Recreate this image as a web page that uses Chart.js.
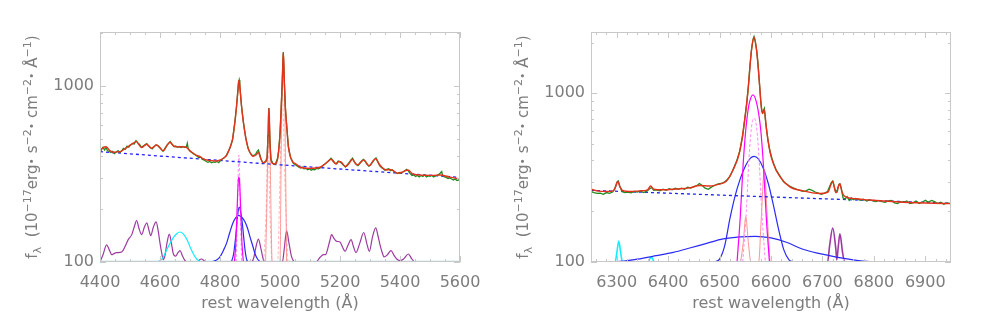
<!DOCTYPE html>
<html>
<head>
<meta charset="utf-8">
<script src="https://cdn.jsdelivr.net/npm/chart.js@4"></script>
<style>
  body { margin: 0; background: #fff; width: 981px; height: 327px; overflow: hidden; position: relative; }
  canvas { position: absolute; top: 0; }
  #hbeta { left: 0; }
  #halpha { left: 491px; }
</style>
</head>
<body>
<canvas id="hbeta" width="490" height="327"></canvas>
<canvas id="halpha" width="490" height="327"></canvas>
<script>
// ---- tick values ----
const yMajor = [100, 1000];
const yMinor = [200, 300, 400, 500, 600, 700, 800, 900, 2000];
const xMajorL = [4400, 4600, 4800, 5000, 5200, 5400, 5600];
const xMinorL = [4450, 4500, 4550, 4650, 4700, 4750, 4850, 4900, 4950, 5050, 5100, 5150, 5250, 5300, 5350, 5450, 5500, 5550];
const xMajorR = [6300, 6400, 6500, 6600, 6700, 6800, 6900];
const xMinorR = [6260, 6280, 6320, 6340, 6360, 6380, 6420, 6440, 6460, 6480, 6520, 6540, 6560, 6580,
                 6620, 6640, 6660, 6680, 6720, 6740, 6760, 6780, 6820, 6840, 6860, 6880, 6920, 6940];

// ---- Hbeta panel: [wavelength, flux] ----
const obsL = [[4400,420],[4405,435],[4410,448],[4415,432],[4420,446],[4425,428],[4430,424],[4436,418],[4442,425],[4448,412],
  [4454,420],[4460,428],[4466,418],[4472,426],[4478,442],[4484,436],[4490,455],[4496,448],[4502,462],[4508,470],[4514,468],
  [4520,488],[4526,474],[4532,465],[4538,448],[4544,455],[4550,462],[4556,470],[4562,455],[4568,446],[4574,438],[4580,450],
  [4586,462],[4592,458],[4598,448],[4604,436],[4610,425],[4616,440],[4622,458],[4628,470],[4634,482],[4640,466],[4646,452],
  [4652,455],[4658,448],[4664,452],[4670,446],[4676,452],[4682,448],[4688,452],[4691,472],[4694,440],[4700,425],[4706,418],
  [4712,410],[4718,405],[4724,398],[4730,390],[4736,394],[4742,382],[4748,378],[4754,372],[4760,368],[4766,372],[4772,366],
  [4778,370],[4784,368],[4790,372],[4796,366],[4802,378],[4808,384],[4814,390],[4820,400],[4826,420],[4833,442],[4842,495],
  [4850,632],[4855,760],[4859,915],[4862,1050],[4864,1080],[4866,1000],[4868,910],[4872,760],[4878,622],[4886,505],[4894,440],
  [4900,418],[4906,404],[4911,402],[4916,406],[4920,412],[4924,425],[4928,432],[4932,410],[4936,388],[4940,372],[4944,366],
  [4948,368],[4952,374],[4957,392],[4960,522],[4963,748],[4966,502],[4970,382],[4976,364],[4980,358],[4985,362],[4992,388],
  [4995,420],[5000,532],[5004,752],[5008,1102],[5011,1552],[5014,1098],[5018,748],[5022,602],[5028,452],[5035,392],[5040,378],
  [5045,362],[5050,358],[5056,352],[5062,346],[5068,342],[5074,346],[5080,338],[5086,340],[5092,334],[5098,338],[5104,332],
  [5110,336],[5116,334],[5122,340],[5128,338],[5134,342],[5140,348],[5146,356],[5152,362],[5158,370],[5164,378],[5170,388],
  [5176,378],[5182,366],[5188,362],[5194,374],[5200,370],[5206,362],[5212,354],[5218,346],[5224,356],[5230,366],[5236,378],
  [5242,388],[5248,370],[5254,358],[5260,352],[5266,362],[5272,374],[5278,382],[5284,372],[5290,360],[5296,350],[5302,356],
  [5308,368],[5314,380],[5320,390],[5326,372],[5332,352],[5338,344],[5344,338],[5350,332],[5356,336],[5362,338],[5368,330],
  [5374,334],[5380,326],[5386,322],[5392,318],[5398,322],[5404,320],[5410,324],[5416,330],[5422,336],[5428,328],[5434,318],
  [5440,310],[5446,312],[5452,306],[5458,310],[5464,304],[5470,310],[5476,306],[5482,312],[5488,304],[5494,308],[5500,306],
  [5506,310],[5512,304],[5518,308],[5524,310],[5530,314],[5536,322],[5539,326],[5542,310],[5548,304],[5554,302],[5560,298],
  [5566,300],[5572,296],[5578,292],[5584,296],[5590,290],[5596,292],[5600,290]];
const fitL = [[4400,428],[4410,445],[4420,451],[4432,430],[4444,420],[4458,422],[4470,425],[4482,438],[4494,452],[4508,470],
  [4522,482],[4530,462],[4539,446],[4548,458],[4556,466],[4564,452],[4572,442],[4580,452],[4589,461],[4600,445],[4611,427],
  [4622,455],[4633,478],[4642,462],[4650,451],[4660,450],[4672,451],[4680,450],[4689,446],[4700,428],[4711,414],[4722,403],
  [4733,396],[4745,385],[4756,379],[4770,376],[4789,374],[4800,379],[4811,388],[4822,403],[4833,445],[4842,500],[4850,630],
  [4855,760],[4859,910],[4862,1050],[4864,1077],[4868,910],[4872,760],[4878,620],[4886,505],[4894,440],[4905,405],[4911,398],
  [4920,405],[4928,418],[4936,385],[4944,366],[4952,370],[4957,390],[4960,520],[4963,745],[4966,500],[4970,380],[4976,362],
  [4985,360],[4992,385],[4995,420],[5000,530],[5004,750],[5008,1100],[5011,1546],[5014,1100],[5018,750],[5022,600],[5028,450],
  [5035,395],[5045,365],[5050,363],[5067,345],[5100,340],[5133,345],[5150,360],[5160,372],[5170,383],[5180,368],[5187,360],
  [5196,372],[5202,371],[5219,348],[5230,362],[5241,383],[5250,365],[5258,355],[5270,370],[5280,380],[5290,360],[5298,351],
  [5310,375],[5319,386],[5328,365],[5337,348],[5353,333],[5365,335],[5376,331],[5392,319],[5410,325],[5426,333],[5444,315],
  [5478,311],[5510,310],[5533,312],[5567,303],[5600,296]];
const contL = [[4400,423],[5000,356],[5600,302]];
const feL = [[4400,100],[4410,110],[4422,125],[4432,116],[4439,110],[4448,112],[4456,113],[4472,114],[4485,124],[4494,134],
  [4506,143],[4515,160],[4522,172],[4530,155],[4539,143],[4548,158],[4556,167],[4563,152],[4569,141],[4578,158],[4587,169],
  [4594,150],[4600,128],[4606,112],[4611,103],[4616,108],[4624,130],[4631,144],[4638,128],[4644,112],[4652,108],[4660,113],
  [4667,116],[4675,108],[4683,102],[4690,100],[4725,100],[4732,103],[4739,104],[4746,102],[4752,100],[4905,100],[4912,105],
  [4920,122],[4928,135],[4936,120],[4944,104],[4950,100],[5008,100],[5014,118],[5022,150],[5030,128],[5038,108],[5046,101],
  [5050,100],[5120,100],[5133,106],[5145,110],[5152,110],[5158,117],[5166,132],[5172,143],[5180,136],[5189,131],[5200,130],
  [5208,122],[5217,115],[5227,125],[5237,134],[5245,122],[5253,113],[5266,128],[5279,147],[5290,126],[5298,115],[5308,138],
  [5319,156],[5327,140],[5333,126],[5340,114],[5347,107],[5358,110],[5370,116],[5380,109],[5389,104],[5400,102],[5412,104],
  [5428,111],[5438,105],[5450,100],[5600,100]];
const heiiL = [[4594,100],[4610,106],[4622,117],[4634,128],[4644,137],[4656,145],[4667,148],[4678,144],[4690,134],[4700,122],
  [4710,112],[4722,104],[4735,100]];
const hbBroad1 = [[4772,100],[4790,103],[4800,107],[4812,117],[4822,128],[4832,146],[4842,165],[4852,178],[4862,184],[4872,180],
  [4883,169],[4892,155],[4900,139],[4910,122],[4917,111],[4925,104],[4935,100]];
const hbBroad2 = [[4838,100],[4845,110],[4850,128],[4855,155],[4859,185],[4864,205],[4869,192],[4874,168],[4879,138],[4884,115],
  [4890,102],[4895,100]];
const hbNarrow = [[4848,100],[4853,130],[4857,200],[4861,290],[4863,303],[4865,290],[4869,200],[4873,130],[4878,100]];
const hbNarrow2 = [[4854,100],[4858,190],[4861,340],[4863,405],[4865,340],[4868,190],[4872,100]];
const oiii = [[4952,100],[4957,250],[4960,600],[4963,745],[4966,600],[4969,250],[4974,100],[5000,100],[5004,420],[5008,1200],
  [5011,1546],[5014,1200],[5018,420],[5022,100]];
const oiii2 = [[4946,100],[4954,200],[4960,500],[4966,200],[4974,100],[4992,100],[5000,300],[5008,900],[5016,300],[5026,100]];
const baseL = [[4400,100],[5600,100]];

// ---- Halpha panel ----
const obsR = [[6250,262],[6256,258],[6262,255],[6268,256],[6274,252],[6280,258],[6286,255],[6292,260],[6296,270],[6300,296],
  [6303,302],[6306,282],[6310,262],[6316,258],[6322,260],[6328,257],[6334,262],[6340,260],[6346,264],[6352,258],[6358,262],
  [6364,272],[6368,276],[6372,266],[6378,268],[6384,264],[6390,270],[6396,266],[6402,272],[6408,268],[6414,274],[6420,270],
  [6426,274],[6432,270],[6438,278],[6444,274],[6450,280],[6456,284],[6461,292],[6466,284],[6472,274],[6478,270],[6484,278],
  [6490,284],[6496,290],[6502,292],[6508,296],[6513,304],[6520,322],[6526,352],[6533,395],[6539,452],[6545,560],[6549,705],
  [6553,880],[6556,1100],[6559,1450],[6562,1800],[6565,2080],[6567,2170],[6569,2050],[6572,1810],[6575,1480],[6577,1210],
  [6580,900],[6582,795],[6584,770],[6587,812],[6589,700],[6591,625],[6594,530],[6598,455],[6602,410],[6605,385],[6610,350],
  [6617,325],[6624,300],[6630,290],[6636,282],[6642,276],[6650,270],[6656,266],[6662,262],[6668,264],[6674,270],[6680,266],
  [6686,260],[6692,256],[6698,252],[6704,256],[6710,262],[6714,280],[6717,295],[6720,302],[6723,280],[6726,260],[6729,268],
  [6732,288],[6734,290],[6737,270],[6740,240],[6744,236],[6748,244],[6752,232],[6756,240],[6760,234],[6764,238],[6768,236],
  [6774,232],[6780,236],[6786,230],[6792,234],[6798,230],[6804,228],[6810,232],[6816,228],[6822,226],[6828,230],[6834,232],
  [6840,224],[6846,222],[6852,228],[6858,226],[6864,230],[6870,222],[6876,224],[6882,230],[6888,222],[6894,226],[6900,232],
  [6906,226],[6912,232],[6918,228],[6924,222],[6930,226],[6936,220],[6942,224],[6950,222]];
const fitR = [[6250,270],[6265,263],[6280,262],[6293,264],[6298,280],[6302,301],[6306,280],[6312,265],[6325,262],[6345,264],
  [6360,268],[6366,282],[6372,270],[6390,268],[6416,271],[6442,275],[6461,284],[6481,282],[6500,290],[6513,301],[6526,350],
  [6539,450],[6549,700],[6556,1100],[6562,1800],[6567,2150],[6572,1800],[6577,1200],[6582,790],[6584,760],[6587,800],
  [6591,620],[6598,450],[6605,380],[6617,322],[6636,280],[6662,264],[6695,255],[6711,260],[6716,285],[6720,301],[6725,262],
  [6728,258],[6731,280],[6734,291],[6738,260],[6745,243],[6766,237],[6792,233],[6857,226],[6950,222]];
const contR = [[6250,266],[6600,243],[6950,223]];
const haWide = [[6250,100],[6300,100.5],[6340,104],[6377,109],[6410,114],[6442,121],[6475,129],[6507,137],[6540,141],[6570,142],
  [6600,139],[6630,131],[6662,119],[6695,112],[6727,107],[6760,103],[6792,100.5],[6830,100],[6950,100]];
const haBroad = [[6490,100],[6500,104],[6510,125],[6520,180],[6530,245],[6540,310],[6550,370],[6560,413],[6567,423],[6575,410],
  [6585,360],[6595,290],[6605,215],[6615,155],[6625,118],[6635,103],[6645,100]];
const haNarrow = [[6534,100],[6540,180],[6546,386],[6551,608],[6557,850],[6565,980],[6573,850],[6580,608],[6585,386],[6591,180],[6597,100]];
const haNarrow2 = [[6545,100],[6552,200],[6558,450],[6563,660],[6567,713],[6571,660],[6576,450],[6582,200],[6589,100]];
const nii = [[6541,100],[6546,130],[6551,185],[6556,130],[6561,100],[6576,100],[6581,180],[6587,353],[6593,180],[6598,100]];
const oi = [[6250,100],[6297,100],[6300,112],[6304,133],[6308,112],[6311,100],[6361,100],[6364,104],[6367,107],[6370,104],
  [6373,100],[6950,100]];
const sii = [[6250,100],[6710,100],[6714,125],[6720,159],[6726,120],[6728,103],[6731,125],[6734,147],[6739,115],[6743,100],[6950,100]];

const txt = '#7d7d7d';
const axisCol = '#c8c8c8';
const font16 = { family: 'DejaVu Sans', size: 16 };

const pts = arr => arr.map(([x, y]) => ({ x, y }));

function line(data, color, width, extra) {
  return Object.assign({
    data: pts(data), borderColor: color, borderWidth: width,
    pointRadius: 0, fill: false, tension: 0
  }, extra || {});
}
const smooth = { cubicInterpolationMode: 'monotone' };

// inward ticks on all four sides + frame
function frameTicks(xMajor, xMinor) {
  return {
    id: 'frameTicks',
    afterDraw(chart) {
      const { ctx, chartArea: a, scales: { x, y } } = chart;
      ctx.save();
      ctx.strokeStyle = axisCol;
      ctx.lineWidth = 1;
      ctx.strokeRect(a.left + 0.5, a.top + 0.5, a.right - a.left - 1, a.bottom - a.top - 1);
      ctx.beginPath();
      const vt = (v, len) => {
        const px = Math.round(x.getPixelForValue(v)) + 0.5;
        ctx.moveTo(px, a.bottom); ctx.lineTo(px, a.bottom - len);
        ctx.moveTo(px, a.top); ctx.lineTo(px, a.top + len);
      };
      const ht = (v, len) => {
        const py = Math.round(y.getPixelForValue(v)) + 0.5;
        ctx.moveTo(a.left, py); ctx.lineTo(a.left + len, py);
        ctx.moveTo(a.right, py); ctx.lineTo(a.right - len, py);
      };
      xMajor.forEach(v => vt(v, 6));
      xMinor.forEach(v => vt(v, 3));
      yMajor.forEach(v => ht(v, 6));
      yMinor.forEach(v => { if (v <= y.max) ht(v, 3); });
      ctx.stroke();
      ctx.restore();
    }
  };
}

// rotated y title with sub/superscripts
const yTitleParts = [['f', 15, 0], ['λ', 11, 4], ['  (10', 15, 0], ['−17', 11, -6], ['erg', 15, 0], ['•', 11, -2],
  [' s', 15, 0], ['−2', 11, -6], ['•', 11, -2], [' cm', 15, 0], ['−2', 11, -6], ['•', 11, -2],
  [' Å', 15, 0], ['−1', 11, -6], [')', 15, 0]];
const yTitle = {
  id: 'yTitle',
  afterDraw(chart) {
    const { ctx, chartArea: a } = chart;
    ctx.save();
    ctx.fillStyle = txt;
    ctx.textBaseline = 'alphabetic';
    let total = 0;
    yTitleParts.forEach(([t, s]) => { ctx.font = s + 'px DejaVu Sans'; total += ctx.measureText(t).width; });
    ctx.translate(37, (a.top + a.bottom) / 2);
    ctx.rotate(-Math.PI / 2);
    let cx = -total / 2;
    yTitleParts.forEach(([t, s, dy]) => {
      ctx.font = s + 'px DejaVu Sans';
      ctx.fillText(t, cx, dy);
      cx += ctx.measureText(t).width;
    });
    ctx.restore();
  }
};

function makeChart(id, xMin, xMax, yMax, xMajor, xMinor, datasets) {
  return new Chart(document.getElementById(id), {
    type: 'line',
    data: { datasets },
    options: {
      responsive: false,
      animation: false,
      devicePixelRatio: 1,
      layout: { padding: { top: 32, right: 30, left: 0, bottom: 0 } },
      plugins: { legend: { display: false }, tooltip: { enabled: false } },
      scales: {
        x: {
          type: 'linear', min: xMin, max: xMax,
          grid: { display: false, drawTicks: false }, border: { display: false },
          afterBuildTicks: s => { s.ticks = xMajor.map(v => ({ value: v })); },
          afterFit: s => { s.height = 65; s.paddingLeft = 0; s.paddingRight = 0; },
          ticks: { callback: v => String(v), font: font16, color: txt, padding: 11, maxRotation: 0, autoSkip: false },
          title: { display: true, text: 'rest wavelength (Å)', font: font16, color: txt, padding: { top: 0, bottom: 14 } }
        },
        y: {
          type: 'logarithmic', min: 100, max: yMax,
          grid: { display: false, drawTicks: false }, border: { display: false },
          afterBuildTicks: s => { s.ticks = yMajor.map(v => ({ value: v })); },
          afterFit: s => { s.width = 100; },
          ticks: { callback: v => String(v), font: font16, color: txt, padding: 6 }
        }
      }
    },
    plugins: [frameTicks(xMajor, xMinor), yTitle]
  });
}

// first dataset is drawn on top
makeChart('hbeta', 4400, 5600, 2020, xMajorL, xMinorL, [
  line(fitL, '#e5321c', 1.4, smooth),
  line(obsL, '#1f8a1f', 1.3),
  line(contL, '#2222ff', 1.3, { borderDash: [3, 3] }),
  line(hbNarrow, '#ff00ff', 1.2, smooth),
  line(hbNarrow2, '#ff8cf4', 1, Object.assign({ borderDash: [3, 2] }, smooth)),
  line(hbBroad2, '#2a2af5', 1.2, smooth),
  line(hbBroad1, '#2a2af5', 1.2, smooth),
  line(oiii, 'rgba(255,120,120,0.75)', 1, smooth),
  line(oiii2, 'rgba(255,140,140,0.6)', 1, Object.assign({ borderDash: [3, 2] }, smooth)),
  line(heiiL, '#14ecff', 1.2, smooth),
  line(feL, '#9c3aa0', 1.2, smooth),
  line(baseL, '#9fd8ec', 2.5)
]);

makeChart('halpha', 6250, 6950, 2310, xMajorR, xMinorR, [
  line(fitR, '#e5321c', 1.4, smooth),
  line(obsR, '#1f8a1f', 1.3),
  line(contR, '#2222ff', 1.3, { borderDash: [3, 3] }),
  line(haNarrow, '#ff00ff', 1.2, smooth),
  line(haNarrow2, '#ff8cf4', 1, Object.assign({ borderDash: [3, 2] }, smooth)),
  line(nii, 'rgba(255,120,120,0.8)', 1, smooth),
  line(haBroad, '#2a2af5', 1.2, smooth),
  line(haWide, '#2a2af5', 1.2, smooth),
  line(sii, '#9c3aa0', 1.6, smooth),
  line(oi, '#14ecff', 1.6, smooth)
]);
</script>
</body>
</html>
